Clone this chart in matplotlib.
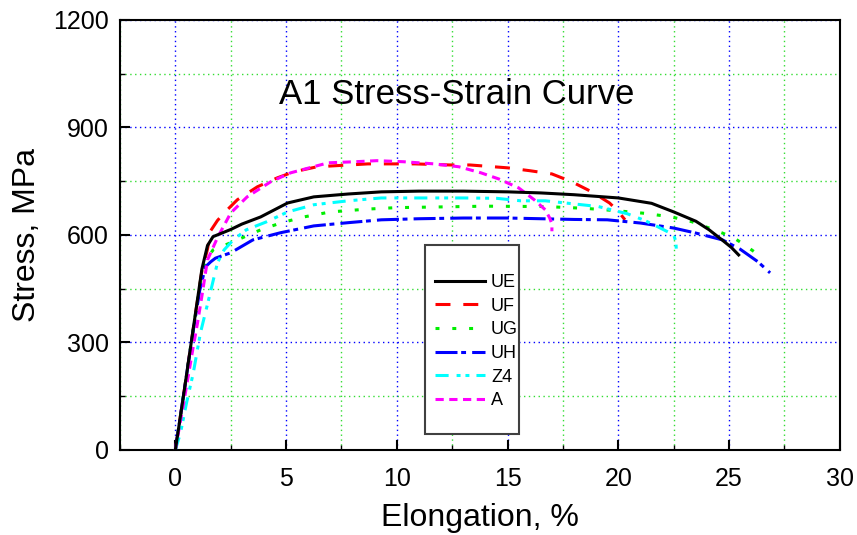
import matplotlib
matplotlib.use('Agg')
import matplotlib.pyplot as plt
from matplotlib.patches import Rectangle
from matplotlib.ticker import MultipleLocator

plt.rcParams['font.family'] = ['Liberation Sans', 'DejaVu Sans']

# curve data (elongation %, stress MPa)
ue_x = [0, 0.4, 0.8, 1.2, 1.45, 1.7, 2.5, 3.0, 3.85, 5.07, 6.25, 7.8, 9.3, 11, 13, 15,
        16.5, 18, 20, 21.5, 22.5, 23.5, 24.1, 24.7, 25.1, 25.43]
ue_y = [0, 165, 335, 505, 570, 595, 615, 630, 650, 689, 706, 714, 720, 722, 722, 720,
        717, 712, 703, 688, 664, 638, 614, 585, 565, 544]

uf_x = [0, 0.4, 0.8, 1.2, 1.45, 1.6, 1.9, 2.2, 2.8, 3.7, 4.6, 5.35, 6.4, 8.7, 10.8, 12.4,
        13.3, 15, 16, 17, 17.9, 18.8, 19.6, 20.0, 20.3]
uf_y = [0, 165, 335, 500, 560, 612, 640, 661, 698, 734, 759, 776, 790, 798, 798, 795,
        795, 787, 779, 770, 748, 720, 689, 665, 642]

ug_x = [0, 0.4, 0.8, 1.2, 1.5, 1.7, 2.26, 2.8, 3.85, 4.75, 5.8, 7, 8.7, 10, 12, 14, 16.7,
        18.5, 20, 21.2, 22.4, 23.3, 24.1, 24.7, 25.2, 25.7, 26.2]
ug_y = [0, 165, 335, 495, 540, 558, 572, 586, 614, 633, 650, 664, 672, 676, 678, 680, 679,
        674, 667, 660, 650, 637, 619, 605, 592, 572, 550]

uh_x = [0, 0.4, 0.8, 1.1, 1.36, 1.6, 1.81, 2.5, 3.5, 4.75, 6.25, 7.8, 9.3, 11, 13, 15,
        16.5, 18, 19.5, 21, 22.5, 23.5, 24.7, 25.5, 26.3, 26.85]
uh_y = [0, 165, 330, 445, 511, 525, 535, 550, 586, 606, 625, 634, 642, 645, 647, 647,
        645, 643, 642, 633, 619, 605, 586, 560, 525, 494]

z4_x = [0, 0.23, 0.5, 0.81, 1.13, 1.5, 1.9, 2.2, 2.6, 3.2, 4.1, 5.07, 6.25, 7.8, 9.3, 11,
        13, 14.5, 15.6, 16.7, 17.6, 19.1, 20.4, 21.2, 21.8, 22.5, 22.6, 22.62]
z4_y = [0, 47, 130, 215, 326, 419, 522, 558, 585, 614, 636, 664, 684, 695, 703, 703,
        703, 702, 695, 695, 689, 679, 659, 640, 622, 600, 580, 553]

a_x = [0, 0.4, 0.8, 1.0, 1.2, 1.45, 1.9, 2.5, 3.24, 4.3, 5.2, 6.9, 8.1, 9.1, 10.3, 11.7,
       12.8, 13.8, 14.6, 15.5, 16.2, 16.7, 16.9, 17.0, 17.0]
a_y = [0, 140, 285, 354, 430, 530, 592, 661, 706, 748, 773, 801, 804, 807, 804, 798,
       790, 773, 756, 731, 698, 670, 647, 630, 610]

labels = ['UE', 'UF', 'UG', 'UH', 'Z4', 'A']


def main():
    fig = plt.figure(figsize=(8.57, 5.35), dpi=100)
    ax = fig.add_axes([0.140, 0.159, 0.840, 0.804])

    lw = 2.2
    ax.plot(ue_x, ue_y, color='black', lw=lw, label=labels[0], zorder=5)
    ax.plot(uf_x, uf_y, color='red', lw=lw, dashes=(4.9, 4.2), label=labels[1], zorder=4)
    ax.plot(ug_x, ug_y, color='#00ee00', lw=lw, dashes=(1.3, 4.2), label=labels[2], zorder=4)
    ax.plot(uh_x, uh_y, color='blue', lw=lw, dashes=(7.2, 1.2, 1.6, 2.0), label=labels[3], zorder=4)
    ax.plot(z4_x, z4_y, color='cyan', lw=lw, dashes=(4.3, 2.6, 1.3, 1.6, 1.3, 2.3),
            label=labels[4], zorder=4)
    ax.plot(a_x, a_y, color='magenta', lw=lw, dashes=(2.7, 1.8), label=labels[5], zorder=4)

    ax.set_xlim(-2.5, 30)
    ax.set_ylim(0, 1200)
    ax.xaxis.set_major_locator(MultipleLocator(5))
    ax.xaxis.set_minor_locator(MultipleLocator(2.5))
    ax.yaxis.set_major_locator(MultipleLocator(300))
    ax.yaxis.set_minor_locator(MultipleLocator(150))

    ax.grid(which='major', color='blue', lw=1, linestyle=(0, (1, 2.5)), zorder=1)
    ax.grid(which='minor', color='#33dd33', lw=1, linestyle=(0, (1, 2.5)), zorder=1)
    ax.set_axisbelow(True)

    ax.tick_params(which='major', direction='in', length=7, width=1.5, labelsize=18,
                   top=False, right=False)
    ax.tick_params(axis='x', which='major', pad=12)
    ax.tick_params(axis='y', which='major', pad=8)
    ax.tick_params(which='minor', direction='in', length=3.5, width=1, top=False, right=False)
    for s in ax.spines.values():
        s.set_linewidth(1.5)

    ax.set_xlabel('Elongation, %', fontsize=23, labelpad=9)
    ax.set_ylabel('Stress, MPa', fontsize=23, labelpad=8)

    ax.text(0.468, 0.826, 'A1 Stress-Strain Curve', transform=ax.transAxes,
            fontsize=25, ha='center', va='center')

    # legend frame drawn separately so it can be taller than the entries
    frame = Rectangle((0.4236, 0.0372), 0.1306, 0.4395, transform=ax.transAxes,
                      facecolor='white', edgecolor='#404040', lw=1.5, zorder=8)
    ax.add_patch(frame)
    leg = ax.legend(loc='center left', bbox_to_anchor=(0.4375, 0.252), frameon=False,
                    fontsize=13, handlelength=2.8, handletextpad=0.3, labelspacing=0.37,
                    borderpad=0, borderaxespad=0)
    leg.set_zorder(9)

    fig.savefig('out.png', dpi=100)


if __name__ == "__main__":
    main()
